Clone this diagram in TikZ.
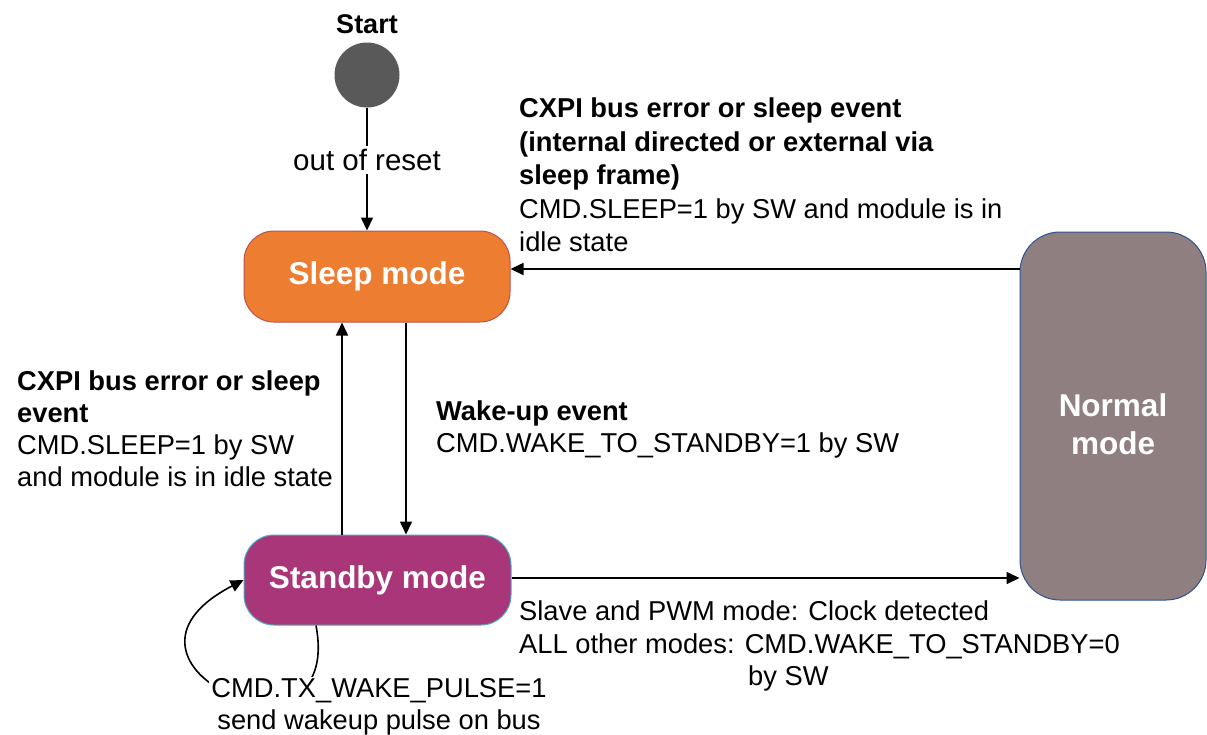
\documentclass[tikz,border=0pt]{standalone}
\usepackage{fontspec}
\setmainfont{Liberation Sans}
\usetikzlibrary{arrows.meta,calc}
\definecolor{sleepfill}{RGB}{237,125,49}
\definecolor{sleepdraw}{RGB}{192,80,77}
\definecolor{sbfill}{RGB}{169,54,120}
\definecolor{sbdraw}{RGB}{75,172,198}
\definecolor{normfill}{RGB}{143,127,129}
\definecolor{normdraw}{RGB}{47,82,143}
\definecolor{startfill}{RGB}{89,89,89}
\tikzset{
  statebox/.style={rectangle, rounded corners=30pt, line width=1pt, inner sep=0pt,
    text=white, font=\fontsize{31.5}{38}\selectfont\bfseries, align=center},
  lbl/.style={font=\fontsize{27.3}{32}\selectfont, inner sep=0pt, align=left},
  arr/.style={line width=1.6pt, -{Triangle[length=13pt,width=12pt]}},
}
\begin{document}
\begin{tikzpicture}[x=1pt,y=-1pt]
\useasboundingbox (0,0) rectangle (1207,734);
% nodes
\node[lbl, font=\fontsize{27}{32}\selectfont\bfseries] (starttxt) at (367,24) {Start};
\node[circle, fill=startfill, minimum size=65pt, inner sep=0pt] (start) at (367,75) {};
\node[statebox, fill=sleepfill, draw=sleepdraw, minimum width=266pt, minimum height=91pt] (sleep) at (377,276.5) {Sleep mode};
\node[statebox, fill=sbfill, draw=sbdraw, minimum width=267pt, minimum height=90pt] (sb) at (377.5,580) {Standby mode};
\node[statebox, rounded corners=40pt, fill=normfill, draw=normdraw, minimum width=186pt, minimum height=368pt] (normal) at (1113,416) {};
\node[statebox] (normaltxt) at (1113,424) {Normal\\mode};
% connectors
\draw[arr] (start.south) -- (sleep.north -| start.south);
\node[lbl, font=\fontsize{29.5}{32}\selectfont, fill=white, inner sep=3pt] (reset) at (367,160) {out of reset};
\draw[arr] (normal.west |- 0,269) -- (sleep.east |- 0,269);
\draw[arr] (sb.east |- 0,578) -- (normal.west |- 0,578);
\draw[arr] (sleep.south -| 406,0) -- (sb.north -| 406,0);
\draw[arr] (sb.north -| 342,0) -- (sleep.south -| 342,0);
\draw[arr] (sb.south -| 316,0) .. controls (345,780) and (80,665) .. (sb.west);
% labels
\node[lbl, font=\fontsize{27.3}{33.5}\selectfont, anchor=north west] (toplbl) at (519,98) {\textbf{CXPI bus error or sleep event}\\\textbf{(internal directed or external via}\\\textbf{sleep frame)}\\CMD.SLEEP=1 by SW and module is in\\idle state};
\node[lbl, anchor=north west] (leftlbl) at (17,371) {\textbf{CXPI bus error or sleep}\\\textbf{event}\\CMD.SLEEP=1 by SW\\and module is in idle state};
\node[lbl, anchor=north west] (wakelbl) at (436,401) {\textbf{Wake-up event}\\CMD.WAKE\_TO\_STANDBY=1 by SW};
\node[lbl, font=\fontsize{27.3}{32.5}\selectfont, anchor=north west] (slavelbl) at (519,601) {Slave and PWM mode: Clock detected\\ALL other modes: CMD.WAKE\_TO\_STANDBY=0\\\hspace*{229pt}by SW};
\node[lbl, align=center, fill=white, inner sep=2pt] (looplbl) at (379,707) {CMD.TX\_WAKE\_PULSE=1\\send wakeup pulse on bus};
\end{tikzpicture}
\end{document}
